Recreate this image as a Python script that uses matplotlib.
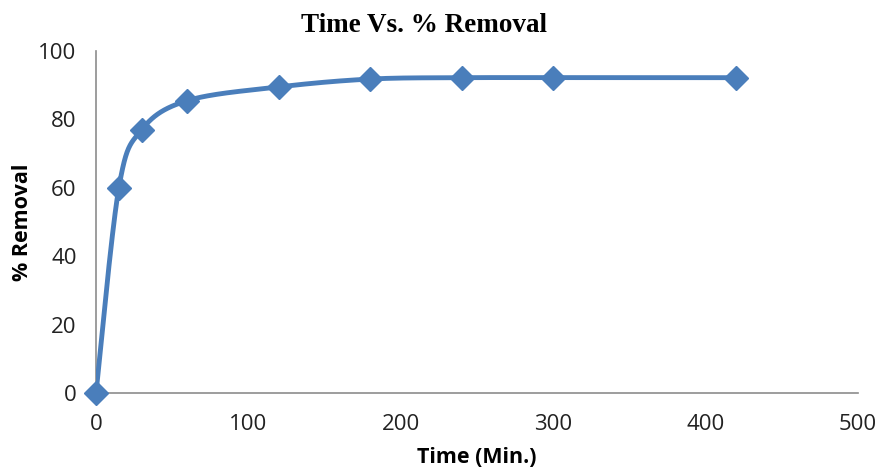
import numpy as np
import matplotlib
matplotlib.use("Agg")
import matplotlib.pyplot as plt

# Contact time (min) and percentage removal
time_min = [0, 15, 30, 60, 120, 180, 240, 300, 420]
removal_pct = [0, 60, 77, 85.5, 89.5, 91.8, 92.2, 92.2, 92.2]

x_ticks = [0, 100, 200, 300, 400, 500]
y_ticks = [0, 20, 40, 60, 80, 100]

LINE_BLUE = "#4A7EBB"


def smooth_curve(xs, ys, steps=40, tension=1.0 / 6.0):
    """Catmull-Rom style Bezier smoothing through every data point."""
    xs = np.asarray(xs, float)
    ys = np.asarray(ys, float)
    n = len(xs)
    out_x, out_y = [], []
    for i in range(n - 1):
        p0 = np.array([xs[max(i - 1, 0)], ys[max(i - 1, 0)]])
        p1 = np.array([xs[i], ys[i]])
        p2 = np.array([xs[i + 1], ys[i + 1]])
        p3 = np.array([xs[min(i + 2, n - 1)], ys[min(i + 2, n - 1)]])
        c1 = p1 + (p2 - p0) * tension
        c2 = p2 - (p3 - p1) * tension
        t = np.linspace(0, 1, steps)[:, None]
        pts = ((1 - t) ** 3) * p1 + 3 * ((1 - t) ** 2) * t * c1 \
            + 3 * (1 - t) * t ** 2 * c2 + t ** 3 * p2
        out_x.extend(pts[:, 0])
        out_y.extend(pts[:, 1])
    return np.array(out_x), np.array(out_y)


fig = plt.figure(figsize=(8.79, 4.72), dpi=100)
ax = fig.add_axes([96 / 879, 1 - 393 / 472, (858 - 96) / 879, (393 - 51) / 472])

sx, sy = smooth_curve(time_min, removal_pct)
ax.plot(sx, sy, color=LINE_BLUE, lw=3.5, solid_capstyle="round", zorder=3)
ax.plot(time_min, removal_pct, linestyle="none", marker="D", ms=12.5,
        color=LINE_BLUE, zorder=4, clip_on=False)

ax.set_xlim(0, 500)
ax.set_ylim(0, 100)
ax.set_xticks(x_ticks)
ax.set_yticks(y_ticks)

tick_font = dict(family=["Open Sans", "DejaVu Sans"], size=16, color="#222222")
ax.set_xticklabels([str(v) for v in x_ticks], **tick_font)
ax.set_yticklabels([str(v) for v in y_ticks], **tick_font)
ax.tick_params(axis="x", length=0, pad=15)
ax.tick_params(axis="y", length=0, pad=14)

for side in ("top", "right"):
    ax.spines[side].set_visible(False)
for side in ("left", "bottom"):
    ax.spines[side].set_color("#8c8c8c")
    ax.spines[side].set_linewidth(1.2)

ax.set_xlabel("Time (Min.)", family=["Open Sans", "DejaVu Sans"],
              fontweight="bold", size=15.5, labelpad=9)
ax.set_ylabel("% Removal", family=["Open Sans", "DejaVu Sans"],
              fontweight="bold", size=15.5, labelpad=4)
fig.text(424 / 879, 1 - 25 / 472, "Time Vs. % Removal",
         family=["Liberation Serif", "DejaVu Serif"], fontweight="bold",
         size=19.5, ha="center", va="center")

fig.savefig("out.png", dpi=100, facecolor="white")
